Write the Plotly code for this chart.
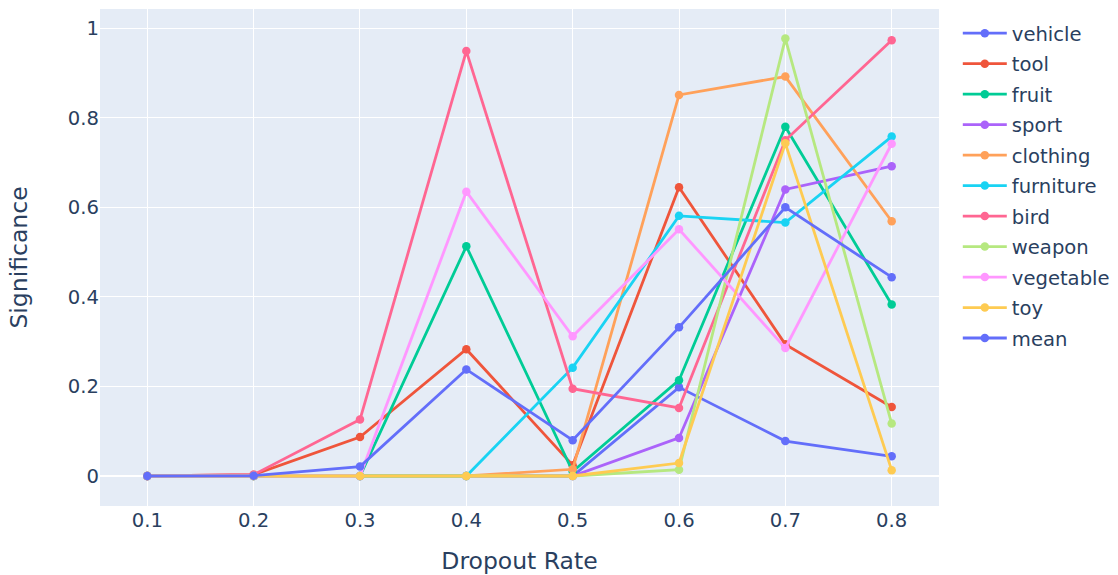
import plotly.graph_objects as go

dropout = [0.1, 0.2, 0.3, 0.4, 0.5, 0.6, 0.7, 0.8]

vehicle = [0, 0, 0, 0, 0, 0.198, 0.078, 0.044]
tool = [0, 0.003, 0.087, 0.283, 0.024, 0.645, 0.294, 0.154]
fruit = [0, 0, 0, 0.513, 0.010, 0.214, 0.780, 0.383]
sport = [0, 0, 0, 0, 0, 0.085, 0.640, 0.692]
clothing = [0, 0, 0, 0, 0.015, 0.851, 0.892, 0.569]
furniture = [0, 0, 0, 0, 0.242, 0.581, 0.566, 0.758]
bird = [0, 0.003, 0.126, 0.949, 0.195, 0.152, 0.750, 0.973]
weapon = [0, 0, 0, 0, 0, 0.014, 0.977, 0.117]
vegetable = [0, 0, 0, 0.635, 0.312, 0.551, 0.286, 0.742]
toy = [0, 0, 0, 0, 0, 0.029, 0.743, 0.013]
mean = [0, 0.0006, 0.021, 0.238, 0.080, 0.332, 0.600, 0.444]

series = [
    ("vehicle", vehicle), ("tool", tool), ("fruit", fruit), ("sport", sport),
    ("clothing", clothing), ("furniture", furniture), ("bird", bird),
    ("weapon", weapon), ("vegetable", vegetable), ("toy", toy), ("mean", mean),
]

fig = go.Figure()
for name, vals in series:
    fig.add_trace(go.Scatter(x=dropout, y=vals, mode="lines+markers", name=name,
                             legendgroup=name,
                             line=dict(width=2.8), marker=dict(size=8.5)))

fig.update_layout(
    template="plotly",
    width=1118, height=575,
    margin=dict(l=100, r=179, t=9, b=69, autoexpand=False),
    font=dict(family="DejaVu Sans", size=19.6),
    legend=dict(font=dict(size=19.6), x=1.0224, y=0.99, yanchor="top",
                itemwidth=44, tracegroupgap=2),
    xaxis=dict(title=dict(text="Dropout Rate", font=dict(size=23.5), standoff=27),
               automargin=False,
               range=[0.0555, 0.8445], dtick=0.1, tickfont=dict(size=19.6)),
    yaxis=dict(title=dict(text="Significance", font=dict(size=23.5), standoff=33),
               automargin=False,
               range=[-0.067, 1.043], dtick=0.2, tickfont=dict(size=19.6)),
)

fig.write_html("out.html")
